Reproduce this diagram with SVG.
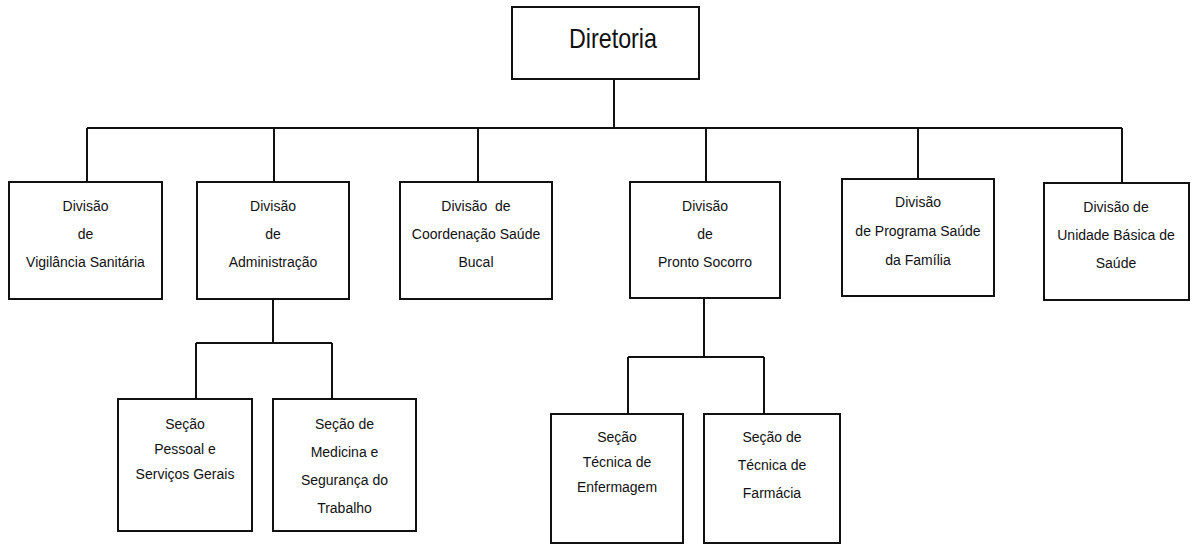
<svg xmlns="http://www.w3.org/2000/svg" width="1192" height="545" viewBox="0 0 1192 545">
<style>
.box{fill:#fff;stroke:#111;stroke-width:2}
.ln{fill:none;stroke:#111;stroke-width:2}
text{font-family:"Liberation Sans",Arial,sans-serif;font-size:14px;fill:#111;text-anchor:middle}
.big{font-size:28px}
</style>
<rect width="1192" height="545" fill="#fff"/>
<g id="connectors">
<path class="ln" d="M614 79V128M87 128H1122M87 128V182M274 128V182M478 128V182M706 128V182M918 128V179M1122 128V183"/>
<path class="ln" d="M273 299V343M196 343H332M196 343V399M332 343V399"/>
<path class="ln" d="M704 298V357M628 357H764M628 357V414M764 357V414"/>
</g>
<g id="diretoria"><rect class="box" x="512" y="7" width="187" height="72"/><text class="big" x="613" y="48" textLength="88" lengthAdjust="spacingAndGlyphs">Diretoria</text></g>
<g id="vigilancia"><rect class="box" x="9" y="182" width="153" height="117"/><text x="85.5" y="211">Divisão</text><text x="85.5" y="239">de</text><text x="85.5" y="267">Vigilância Sanitária</text></g>
<g id="administracao"><rect class="box" x="197" y="182" width="152" height="117"/><text x="273" y="211">Divisão</text><text x="273" y="239">de</text><text x="273" y="267">Administração</text></g>
<g id="bucal"><rect class="box" x="400" y="182" width="152" height="117"/><text x="476" y="211" xml:space="preserve">Divisão  de</text><text x="476" y="239">Coordenação Saúde</text><text x="476" y="267">Bucal</text></g>
<g id="pronto"><rect class="box" x="630" y="182" width="150" height="116"/><text x="705" y="211">Divisão</text><text x="705" y="239">de</text><text x="705" y="267">Pronto Socorro</text></g>
<g id="familia"><rect class="box" x="842" y="179" width="152" height="117"/><text x="918" y="207">Divisão</text><text x="918" y="236">de Programa Saúde</text><text x="918" y="265">da Família</text></g>
<g id="ubs"><rect class="box" x="1044" y="183" width="145" height="117"/><text x="1116" y="212">Divisão de</text><text x="1116" y="240">Unidade Básica de</text><text x="1116" y="268">Saúde</text></g>
<g id="pessoal"><rect class="box" x="118" y="399" width="134" height="132"/><text x="185" y="429">Seção</text><text x="185" y="454">Pessoal e</text><text x="185" y="479">Serviços Gerais</text></g>
<g id="medicina"><rect class="box" x="273" y="399" width="143" height="132"/><text x="344.5" y="429">Seção de</text><text x="344.5" y="457">Medicina e</text><text x="344.5" y="485">Segurança do</text><text x="344.5" y="513">Trabalho</text></g>
<g id="enfermagem"><rect class="box" x="551" y="414" width="132" height="129"/><text x="617" y="442">Seção</text><text x="617" y="467">Técnica de</text><text x="617" y="492">Enfermagem</text></g>
<g id="farmacia"><rect class="box" x="704" y="414" width="136" height="129"/><text x="772" y="442">Seção de</text><text x="772" y="470">Técnica de</text><text x="772" y="498">Farmácia</text></g>
</svg>
